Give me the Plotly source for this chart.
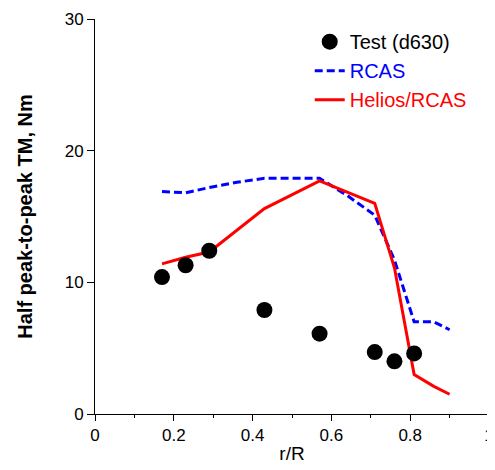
import plotly.graph_objects as go

# Test data (d630)
test_x = [0.17, 0.23, 0.29, 0.43, 0.57, 0.71, 0.76, 0.81]
test_y = [10.4, 11.3, 12.4, 7.9, 6.1, 4.7, 4.0, 4.6]

# RCAS
rcas_x = [0.17, 0.23, 0.29, 0.36, 0.43, 0.50, 0.57, 0.64, 0.71, 0.76, 0.81, 0.86, 0.90]
rcas_y = [16.9, 16.8, 17.2, 17.6, 17.9, 17.9, 17.9, 16.6, 15.1, 11.7, 7.0, 7.0, 6.4]

# Helios/RCAS
hel_x = [0.17, 0.23, 0.29, 0.43, 0.57, 0.71, 0.76, 0.81, 0.86, 0.90]
hel_y = [11.4, 11.9, 12.3, 15.6, 17.7, 16.0, 11.1, 3.0, 2.1, 1.5]

fig = go.Figure()
fig.add_trace(go.Scatter(
    x=rcas_x, y=rcas_y, mode="lines", name="<span style='color:#0000FF'>RCAS</span>",
    line=dict(color="#0000FF", width=3, dash="8px,4px"), legendrank=2, legendgroup="b"))
fig.add_trace(go.Scatter(
    x=hel_x, y=hel_y, mode="lines", name="<span style='color:#FF0000'>Helios/RCAS</span>",
    line=dict(color="#FF0000", width=3), legendrank=3, legendgroup="c"))
fig.add_trace(go.Scatter(
    x=test_x, y=test_y, mode="markers", name="Test (d630)",
    marker=dict(color="black", size=16), legendrank=1, legendgroup="a"))

fig.update_layout(
    width=495, height=470,
    margin=dict(l=87, r=14, t=11, b=64),
    paper_bgcolor="white", plot_bgcolor="white",
    font=dict(family="Arial, Liberation Sans, sans-serif", size=17, color="black"),
    legend=dict(x=0.545, y=0.992, xanchor="left", yanchor="top",
                font=dict(size=20), bgcolor="rgba(0,0,0,0)",
                traceorder="grouped", tracegroupgap=0),
    showlegend=True,
)
fig.update_xaxes(
    range=[0, 1], dtick=0.2, showgrid=False, zeroline=False, automargin=False,
    showline=True, linecolor="black", linewidth=1,
    ticks="outside", ticklen=6, tickcolor="black",
    minor=dict(dtick=0.1, ticks="outside", ticklen=3, tickcolor="black"),
    title=dict(text="r/R", font=dict(size=19), standoff=2),
)
fig.update_yaxes(
    range=[0, 30], dtick=10, showgrid=False, zeroline=False, automargin=False,
    showline=True, linecolor="black", linewidth=1,
    ticks="outside", ticklen=7, tickcolor="black",
    title=dict(text="<b>Half peak-to-peak TM, Nm</b>", font=dict(size=20), standoff=26),
)

fig.write_html("out.html")
